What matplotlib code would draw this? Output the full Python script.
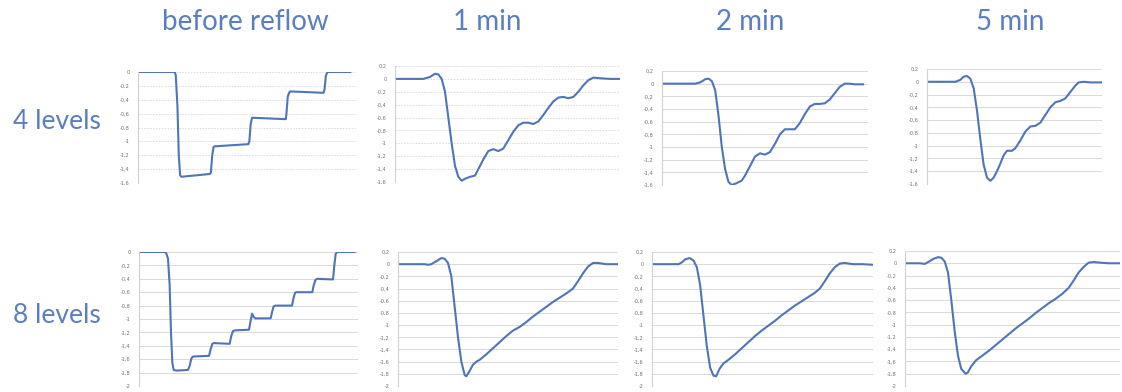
import matplotlib.pyplot as plt
from matplotlib.ticker import FuncFormatter, MultipleLocator

FIG_W, FIG_H = 1122, 392

col_titles = ["before reflow", "1 min", "2 min", "5 min"]
row_titles = ["4 levels", "8 levels"]

# 4 levels: before reflow
t1 = [85, 195, 198, 203, 207, 211, 215, 300, 303, 307, 311, 315, 320, 415, 418, 422, 426, 430,
      527, 529, 533, 538, 540, 640, 643, 647, 652, 720]
y1 = [0, 0, -0.05, -0.5, -1.2, -1.49, -1.51, -1.47, -1.45, -1.2, -1.08, -1.07, -1.07, -1.04, -1.0,
      -0.75, -0.66, -0.66, -0.68, -0.6, -0.35, -0.29, -0.28, -0.30, -0.25, -0.05, 0, 0]

# 4 levels: 1 min
t2 = [105, 190, 210, 225, 235, 245, 255, 265, 275, 285, 295, 305, 315, 330, 345, 355, 370, 385,
      400, 415, 430, 445, 460, 475, 490, 505, 520, 535, 550, 565, 580, 595, 610, 625, 640, 655,
      670, 685, 700, 720, 750, 780]
y2 = [0, 0, 0.03, 0.08, 0.07, 0.0, -0.2, -0.6, -1.0, -1.35, -1.52, -1.58, -1.55, -1.52, -1.5,
      -1.4, -1.25, -1.12, -1.09, -1.12, -1.08, -0.95, -0.82, -0.72, -0.68, -0.68, -0.70, -0.66,
      -0.56, -0.45, -0.35, -0.29, -0.28, -0.30, -0.28, -0.2, -0.1, -0.02, 0.02, 0.01, 0, 0]

# 4 levels: 2 min
t3 = [125, 210, 225, 240, 255, 265, 275, 285, 295, 305, 315, 325, 335, 350, 365, 375, 390, 405,
      420, 435, 450, 465, 480, 495, 510, 525, 540, 555, 570, 585, 600, 615, 630, 645, 660, 675,
      690, 705, 730]
y3 = [0, 0, 0, 0.02, 0.07, 0.08, 0.04, -0.1, -0.5, -1.0, -1.35, -1.55, -1.6, -1.57, -1.53,
      -1.45, -1.3, -1.15, -1.1, -1.12, -1.08, -0.95, -0.8, -0.72, -0.72, -0.72, -0.62, -0.48,
      -0.36, -0.32, -0.32, -0.31, -0.25, -0.15, -0.05, 0.0, 0, -0.01, -0.01]

# 4 levels: 5 min
t4 = [140, 225, 240, 250, 260, 270, 280, 290, 300, 310, 320, 330, 340, 350, 360, 370, 380, 395,
      405, 420, 435, 450, 465, 480, 495, 510, 525, 540, 555, 570, 585, 595, 610, 630, 665]
y4 = [0, 0, 0.03, 0.08, 0.09, 0.05, -0.1, -0.45, -0.9, -1.3, -1.5, -1.55, -1.5, -1.4, -1.28,
      -1.15, -1.08, -1.08, -1.04, -0.92, -0.78, -0.7, -0.69, -0.64, -0.52, -0.4, -0.32, -0.3,
      -0.26, -0.16, -0.06, -0.01, 0.0, -0.01, -0.01]

# 8 levels: before reflow
t5 = [88, 165, 170, 175, 180, 184, 188, 192, 200, 235, 240, 245, 250, 298, 303, 308, 312, 360,
      365, 370, 375, 418, 422, 427, 432, 437, 483, 487, 492, 497, 547, 551, 556, 560, 608, 612,
      617, 622, 670, 674, 678, 682, 735]
y5 = [0, 0, -0.02, -0.1, -0.5, -1.2, -1.65, -1.76, -1.77, -1.76, -1.7, -1.59, -1.56, -1.55,
      -1.45, -1.37, -1.36, -1.37, -1.25, -1.18, -1.17, -1.16, -1.05, -0.92, -0.97, -0.99, -0.99,
      -0.9, -0.81, -0.8, -0.8, -0.7, -0.61, -0.6, -0.6, -0.5, -0.42, -0.4, -0.41, -0.2, -0.03,
      0, 0]

# 8 levels: 1 min
t6 = [115, 195, 205, 215, 230, 245, 255, 265, 275, 285, 295, 305, 315, 320, 330, 340, 350, 360,
      380, 400, 420, 440, 460, 480, 500, 520, 540, 560, 580, 600, 620, 640, 655, 670, 685, 700,
      715, 740, 775]
y6 = [0, 0, -0.01, 0, 0.05, 0.1, 0.09, 0.02, -0.2, -0.7, -1.2, -1.6, -1.82, -1.84, -1.75,
      -1.65, -1.6, -1.57, -1.48, -1.38, -1.28, -1.18, -1.09, -1.03, -0.95, -0.86, -0.78, -0.70,
      -0.62, -0.55, -0.48, -0.4, -0.28, -0.15, -0.04, 0.02, 0.02, 0.0, 0.0]

# 8 levels: 2 min
t7 = [95, 165, 175, 185, 195, 208, 220, 230, 240, 250, 260, 270, 280, 288, 298, 310, 325, 345,
      365, 385, 405, 425, 445, 465, 485, 505, 525, 545, 565, 585, 600, 615, 630, 645, 660, 675,
      700, 730, 760]
y7 = [0, 0, 0, 0.03, 0.08, 0.1, 0.06, -0.05, -0.35, -0.85, -1.35, -1.7, -1.83, -1.84, -1.72,
      -1.63, -1.57, -1.48, -1.38, -1.28, -1.18, -1.09, -1.01, -0.93, -0.84, -0.76, -0.68, -0.61,
      -0.54, -0.47, -0.40, -0.28, -0.15, -0.05, 0.01, 0.02, 0.0, 0.0, -0.01]

# 8 levels: 5 min
t8 = [75, 120, 135, 145, 160, 175, 185, 195, 205, 215, 225, 235, 245, 258, 265, 275, 290, 310,
      330, 350, 370, 390, 410, 430, 450, 470, 490, 510, 530, 550, 570, 585, 600, 615, 630, 645,
      665, 690, 725]
y8 = [0, 0, -0.01, 0.02, 0.07, 0.1, 0.09, 0.03, -0.15, -0.6, -1.1, -1.5, -1.72, -1.8, -1.78,
      -1.68, -1.58, -1.5, -1.42, -1.33, -1.24, -1.15, -1.06, -0.98, -0.9, -0.81, -0.73, -0.65,
      -0.58, -0.5, -0.4, -0.28, -0.15, -0.06, 0.01, 0.02, 0.01, 0.0, 0.0]

series = [(t1, y1), (t2, y2), (t3, y3), (t4, y4), (t5, y5), (t6, y6), (t7, y7), (t8, y8)]
xlims = [(85, 740), (105, 780), (125, 745), (140, 665), (88, 745), (115, 775), (95, 760), (75, 725)]
ylims = [(-1.6, 0), (-1.6, 0.2), (-1.6, 0.2), (-1.6, 0.2), (-2, 0), (-2, 0.2), (-2, 0.2), (-2, 0.2)]

# panel boxes in pixels: left, right, top, bottom
boxes = [(138, 357, 72, 183), (395, 620, 66, 182), (662, 868, 71, 185), (927, 1102, 69, 184),
         (139, 358, 252, 386), (398, 618, 252, 386), (652, 873, 252, 386), (905, 1120, 251, 386)]
dotted = [True, True, False, False, False, False, False, False]

LINE = "#4f74ba"
TEXT = "#5a7ec0"


def fmt(v, pos):
    s = "%g" % round(v, 2)
    return s.replace(".", ",")


fig = plt.figure(figsize=(FIG_W / 100, FIG_H / 100), dpi=100)

for i, ((t, y), (l, r, top, bot)) in enumerate(zip(series, boxes)):
    ax = fig.add_axes([l / FIG_W, 1 - bot / FIG_H, (r - l) / FIG_W, (bot - top) / FIG_H])
    ax.plot(t, y, color=LINE, lw=1.5, solid_joinstyle="round")
    ax.set_xlim(*xlims[i])
    ax.set_ylim(*ylims[i])
    ax.yaxis.set_major_locator(MultipleLocator(0.2))
    ax.yaxis.set_major_formatter(FuncFormatter(fmt))
    ax.set_xticks([])
    ax.grid(axis="y", color="#d9d9d9", lw=0.7, ls=(0, (1.5, 1.5)) if dotted[i] else "-")
    ax.set_axisbelow(True)
    for s in ["top", "right", "bottom"]:
        ax.spines[s].set_visible(False)
    ax.spines["left"].set_color("#d0d0d0")
    ax.spines["left"].set_linewidth(0.8)
    ax.tick_params(axis="y", length=0, pad=6, labelsize=3.6, labelcolor="#707070")

col_x = [245, 487, 750, 1010]
for x, s in zip(col_x, col_titles):
    fig.text(x / FIG_W, 1 - 30 / FIG_H, s, ha="center", va="baseline", fontsize=20,
             color=TEXT, family="Lato")

row_y = [129, 323]
for yy, s in zip(row_y, row_titles):
    fig.text(57 / FIG_W, 1 - yy / FIG_H, s, ha="center", va="baseline", fontsize=19,
             color=TEXT, family="Lato")

fig.savefig("out.png", dpi=100)
